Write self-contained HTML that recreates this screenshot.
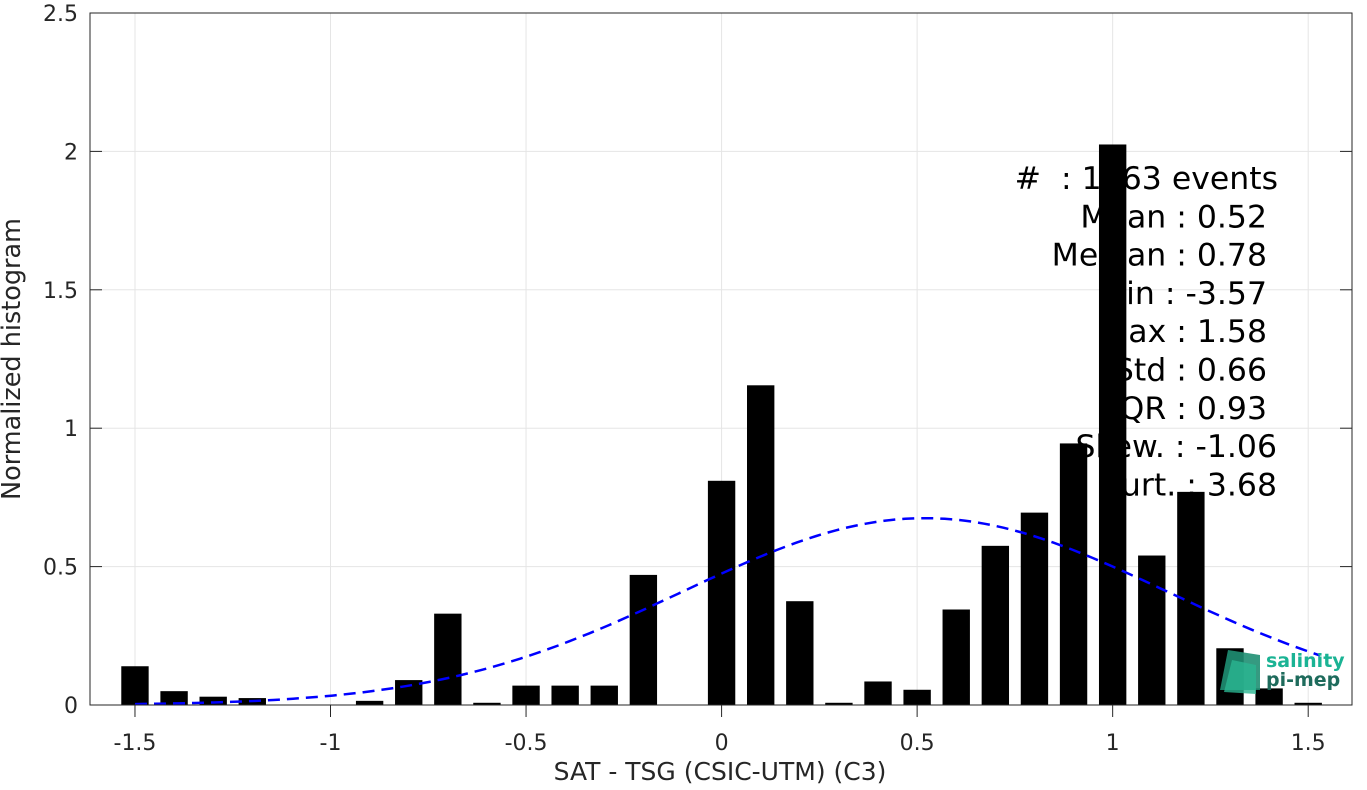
<!DOCTYPE html>
<html><head><meta charset="utf-8"><style>
body{margin:0;background:#fff;width:1367px;height:785px;overflow:hidden}
svg text{font-family:"DejaVu Sans","Liberation Sans",sans-serif}
#stats text{white-space:pre}
</style></head><body>
<svg id="chart" width="1367" height="785" xmlns="http://www.w3.org/2000/svg">
<g id="grid"></g>
<g id="stats" font-size="31.5" fill="#000" text-anchor="end"></g>
<g id="bars"></g>
<path id="fit" fill="none" stroke="#0000ff" stroke-width="2.5" stroke-dasharray="12,7"/>
<g id="axes"></g>
<g>
<polygon points="1228,650 1260,655 1260,690 1220,690" fill="#1f8f73" opacity="0.9"/>
<polygon points="1232,660 1256,665 1256,694 1224,692" fill="#2bb591" opacity="0.8"/>
<text x="1266" y="667" font-size="19" font-weight="bold" fill="#1ab394">salinity</text>
<text x="1266" y="686" font-size="19" font-weight="bold" fill="#1e6b5c">pi-mep</text>
</g>
<text x="720" y="780" font-size="25" text-anchor="middle" fill="#262626">SAT - TSG (CSIC-UTM) (C3)</text>
<text transform="translate(20,359) rotate(-90)" font-size="25.5" text-anchor="middle" fill="#262626">Normalized histogram</text>
</svg>
<script>
const binCenters=[-1.5,-1.4,-1.3,-1.2,-1.1,-1.0,-0.9,-0.8,-0.7,-0.6,-0.5,-0.4,-0.3,-0.2,-0.1,0,0.1,0.2,0.3,0.4,0.5,0.6,0.7,0.8,0.9,1.0,1.1,1.2,1.3,1.4,1.5];
const binValues=[0.14,0.05,0.03,0.025,0,0,0.015,0.09,0.33,0.008,0.07,0.07,0.07,0.47,0,0.81,1.155,0.375,0.008,0.085,0.055,0.345,0.575,0.695,0.945,2.025,0.54,0.77,0.205,0.06,0.008];
const xTicks=[-1.5,-1,-0.5,0,0.5,1,1.5];
const xTickLabels=["-1.5","-1","-0.5","0","0.5","1","1.5"];
const yTicks=[0,0.5,1,1.5,2,2.5];
const yTickLabels=["0","0.5","1","1.5","2","2.5"];
const fitMean=0.52, fitStd=0.62, fitAmp=0.675;
const statLines=["#  : 1163 events","Mean : 0.52","Median : 0.78","Min : -3.57","Max : 1.58","Std : 0.66","IQR : 0.93","Skew. : -1.06","Kurt. : 3.68"];
const L=90,R=1352,T=13,B=705,xmin=-1.615,xmax=1.612,ymax=2.5;
const X=v=>L+(v-xmin)/(xmax-xmin)*(R-L);
const Y=v=>B-v/ymax*(B-T);
const NS="http://www.w3.org/2000/svg";
function mk(t,a,p){const e=document.createElementNS(NS,t);for(const k in a)e.setAttribute(k,a[k]);p.appendChild(e);return e;}
const grid=document.getElementById('grid'),axes=document.getElementById('axes'),bars=document.getElementById('bars'),stats=document.getElementById('stats');
xTicks.forEach((v,i)=>{
 const g=mk('line',{x1:X(v),x2:X(v),y1:T,y2:B,stroke:'#e5e5e5','stroke-width':1},grid);
 
 
 mk('line',{x1:X(v),x2:X(v),y1:B,y2:B+12,stroke:'#262626'},axes);
 const t=mk('text',{x:X(v),y:B+45,'font-size':22,'text-anchor':'middle',fill:'#262626'},axes);
 t.textContent=xTickLabels[i];
 
 
});
yTicks.forEach((v,i)=>{
 const g=mk('line',{x1:L,x2:R,y1:Y(v),y2:Y(v),stroke:'#e5e5e5','stroke-width':1},grid);
 
 
 mk('line',{x1:L,x2:L+12,y1:Y(v),y2:Y(v),stroke:'#262626'},axes);
 mk('line',{x1:R,x2:R-12,y1:Y(v),y2:Y(v),stroke:'#262626'},axes);
 const t=mk('text',{x:L-12,y:Y(v)+8,'font-size':22,'text-anchor':'end',fill:'#262626'},axes);
 t.textContent=yTickLabels[i];
 
 
});
mk('rect',{x:L,y:T,width:R-L,height:B-T,fill:'none',stroke:'#262626','stroke-width':1},axes);
const endX=[1278,1267,1267,1267,1267,1267,1267,1277,1277];
statLines.forEach((s,i)=>{
 const t=mk('text',{x:endX[i],y:189+i*38.3},stats);
 t.textContent=s;
 
 
});
const bw=0.07*(R-L)/(xmax-xmin);
binCenters.forEach((c,i)=>{
 const v=binValues[i]; if(v<=0)return;
 const r=mk('rect',{x:X(c)-bw/2,y:Y(v),width:bw,height:B-Y(v),fill:'#000'},bars);
 
 
});
let d='';
for(let k=0;k<=120;k++){const x=-1.5+k*(3.03/120);const y=fitAmp*Math.exp(-((x-fitMean)**2)/(2*fitStd*fitStd));d+=(k?'L':'M')+X(x).toFixed(1)+','+Y(y).toFixed(1);}
document.getElementById('fit').setAttribute('d',d);
</script>
</body></html>
